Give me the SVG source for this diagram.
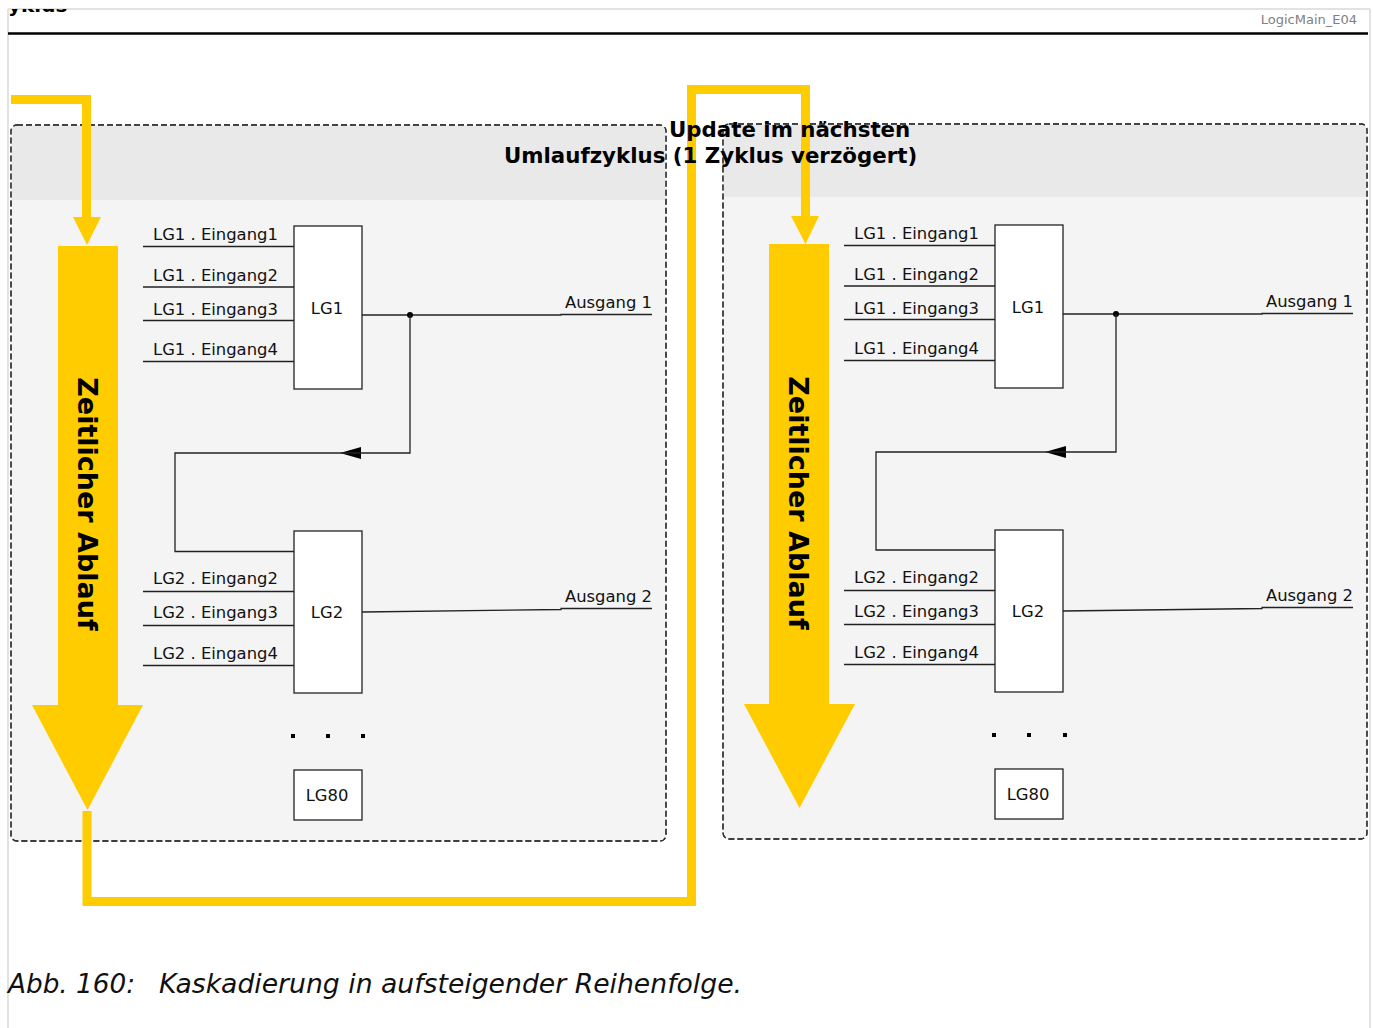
<svg xmlns="http://www.w3.org/2000/svg" width="1373" height="1028" viewBox="0 0 1373 1028">
<style>
.lbl{font-family:"DejaVu Sans","Liberation Sans",sans-serif;font-size:16.4px;fill:#111}
.box{fill:#fff;stroke:#222;stroke-width:1.3}
.wire{fill:none;stroke:#222;stroke-width:1.3}
.cont{stroke:#333;stroke-width:1.3;stroke-dasharray:6 3;fill:#f4f4f4}
.hdr{fill:#e9e9e9}
.yl{fill:none;stroke:#ffcc00;stroke-width:9;stroke-linejoin:miter}
.yf{fill:#ffcc00}
.vt{font-family:"DejaVu Sans","Liberation Sans",sans-serif;font-size:27px;font-weight:bold;fill:#000}
.ttl{font-family:"DejaVu Sans","Liberation Sans",sans-serif;font-weight:bold;font-size:21.33px;fill:#000}
.cap{font-family:"DejaVu Sans Condensed","DejaVu Sans",sans-serif;font-style:italic;font-size:26px;fill:#111}
</style>
<defs>
<clipPath id="pageclip"><rect x="0" y="9" width="1373" height="40"/></clipPath>
</defs>
<rect width="1373" height="1028" fill="#fff"/>
<g id="page">
<line x1="8" y1="9" x2="1370" y2="9" stroke="#e2e2e2" stroke-width="2"/>
<line x1="8" y1="9" x2="8" y2="1028" stroke="#e2e2e2" stroke-width="2"/>
<line x1="1370" y1="9" x2="1370" y2="1028" stroke="#e2e2e2" stroke-width="2"/>
<g clip-path="url(#pageclip)"><text x="8" y="12" font-family="DejaVu Sans, sans-serif" font-weight="bold" font-size="20" fill="#000">yklus</text></g>
<line x1="8" y1="33.5" x2="1368" y2="33.5" stroke="#000" stroke-width="2.5"/>
<text x="1357" y="24" text-anchor="end" font-family="DejaVu Sans, sans-serif" font-size="13" fill="#808080">LogicMain_E04</text>
</g>

<!-- Left container -->
<g id="cycle1">
<rect class="cont" x="11" y="125" width="655" height="716" rx="6"/>
<path class="hdr" d="M17,125.7 H660 Q665.3,125.7 665.3,131 V200 H11.7 V131 Q11.7,125.7 17,125.7 Z"/>
<rect x="11" y="125" width="655" height="716" rx="6" fill="none" stroke="#333" stroke-width="1.3" stroke-dasharray="6 3"/>
</g>
<!-- Right container -->
<g id="cycle2">
<rect class="cont" x="723" y="124" width="644" height="715" rx="6"/>
<path class="hdr" d="M729,124.7 H1361 Q1366.3,124.7 1366.3,130 V197 H723.7 V130 Q723.7,124.7 729,124.7 Z"/>
<rect x="723" y="124" width="644" height="715" rx="6" fill="none" stroke="#333" stroke-width="1.3" stroke-dasharray="6 3"/>
</g>

<!-- Left logic -->
<g id="left-logic">
<g id="lg1-inputs">
<line class="wire" x1="143" y1="246.5" x2="294" y2="246.5"/>
<line class="wire" x1="143" y1="287" x2="294" y2="287"/>
<line class="wire" x1="143" y1="320.5" x2="294" y2="320.5"/>
<line class="wire" x1="143" y1="361.5" x2="294" y2="361.5"/>
<text class="lbl" x="153" y="240">LG1 . Eingang1</text>
<text class="lbl" x="153" y="281">LG1 . Eingang2</text>
<text class="lbl" x="153" y="315">LG1 . Eingang3</text>
<text class="lbl" x="153" y="355">LG1 . Eingang4</text>
</g>
<g id="lg1"><rect class="box" x="294" y="226" width="68" height="163"/><text class="lbl" x="327" y="314" text-anchor="middle">LG1</text></g>
<g id="lg2-inputs">
<line class="wire" x1="143" y1="591.5" x2="294" y2="591.5"/>
<line class="wire" x1="143" y1="625.5" x2="294" y2="625.5"/>
<line class="wire" x1="143" y1="665.5" x2="294" y2="665.5"/>
<text class="lbl" x="153" y="584">LG2 . Eingang2</text>
<text class="lbl" x="153" y="618">LG2 . Eingang3</text>
<text class="lbl" x="153" y="659">LG2 . Eingang4</text>
</g>
<g id="lg2"><rect class="box" x="294" y="531" width="68" height="162"/><text class="lbl" x="327" y="618" text-anchor="middle">LG2</text></g>
<g id="dots1"><rect x="291" y="734" width="4" height="4" fill="#000"/><rect x="326" y="734" width="4" height="4" fill="#000"/><rect x="361" y="734" width="4" height="4" fill="#000"/></g>
<g id="lg80"><rect class="box" x="294" y="770" width="68" height="50"/><text class="lbl" x="327" y="801" text-anchor="middle">LG80</text></g>
<g id="outputs1">
<polyline class="wire" points="362,315 561,315 561,314.5 652,314.5"/>
<text class="lbl" x="652" y="308" text-anchor="end">Ausgang 1</text>
<polyline class="wire" points="362,612 561,609.5 561,608.5 652,608.5"/>
<text class="lbl" x="652" y="602" text-anchor="end">Ausgang 2</text>
</g>
</g>

<!-- Right logic -->
<g id="right-logic" transform="translate(701,-1)">
<g id="lg1b-inputs">
<line class="wire" x1="143" y1="246.5" x2="294" y2="246.5"/>
<line class="wire" x1="143" y1="287" x2="294" y2="287"/>
<line class="wire" x1="143" y1="320.5" x2="294" y2="320.5"/>
<line class="wire" x1="143" y1="361.5" x2="294" y2="361.5"/>
<text class="lbl" x="153" y="240">LG1 . Eingang1</text>
<text class="lbl" x="153" y="281">LG1 . Eingang2</text>
<text class="lbl" x="153" y="315">LG1 . Eingang3</text>
<text class="lbl" x="153" y="355">LG1 . Eingang4</text>
</g>
<g id="lg1b"><rect class="box" x="294" y="226" width="68" height="163"/><text class="lbl" x="327" y="314" text-anchor="middle">LG1</text></g>
<g id="lg2b-inputs">
<line class="wire" x1="143" y1="591.5" x2="294" y2="591.5"/>
<line class="wire" x1="143" y1="625.5" x2="294" y2="625.5"/>
<line class="wire" x1="143" y1="665.5" x2="294" y2="665.5"/>
<text class="lbl" x="153" y="584">LG2 . Eingang2</text>
<text class="lbl" x="153" y="618">LG2 . Eingang3</text>
<text class="lbl" x="153" y="659">LG2 . Eingang4</text>
</g>
<g id="lg2b"><rect class="box" x="294" y="531" width="68" height="162"/><text class="lbl" x="327" y="618" text-anchor="middle">LG2</text></g>
<g id="dots2"><rect x="291" y="734" width="4" height="4" fill="#000"/><rect x="326" y="734" width="4" height="4" fill="#000"/><rect x="362" y="734" width="4" height="4" fill="#000"/></g>
<g id="lg80b"><rect class="box" x="294" y="770" width="68" height="50"/><text class="lbl" x="327" y="801" text-anchor="middle">LG80</text></g>
<g id="outputs2">
<polyline class="wire" points="362,315 561,315 561,314.5 652,314.5"/>
<text class="lbl" x="652" y="308" text-anchor="end">Ausgang 1</text>
<polyline class="wire" points="362,612 561,609.5 561,608.5 652,608.5"/>
<text class="lbl" x="652" y="602" text-anchor="end">Ausgang 2</text>
</g>
</g>

<!-- Connectors -->
<g id="connectors">
<circle cx="410" cy="315" r="3" fill="#000"/>
<path class="wire" d="M410,315 V453 H361"/>
<path d="M340,453 L361,447 L361,459 Z" fill="#000"/>
<path class="wire" d="M361,453 H175 V551.5 H294"/>
<circle cx="1116" cy="314" r="3" fill="#000"/>
<path class="wire" d="M1116,314 V452 H1066"/>
<path d="M1045,452 L1066,446 L1066,458 Z" fill="#000"/>
<path class="wire" d="M1066,452 H876 V550 H995"/>
</g>

<!-- Yellow flow -->
<g id="flow">
<path class="yl" d="M11,99.5 H86.5 V218"/>
<polygon class="yf" points="73,217 101,217 87,245"/>
<rect class="yf" x="58" y="246" width="60" height="460"/>
<polygon class="yf" points="32,705 143,705 87.5,810"/>
<path class="yl" d="M87,811 V901.5 H691.5 V89.5 H805.5 V217"/>
<polygon class="yf" points="791,216 819,216 805.5,244"/>
<rect class="yf" x="769" y="244" width="60" height="461"/>
<polygon class="yf" points="744,704 855,704 799.5,808"/>
<text class="vt" transform="translate(88,504) rotate(90)" x="0" y="10" text-anchor="middle">Zeitlicher Ablauf</text>
<text class="vt" transform="translate(799,503) rotate(90)" x="0" y="10" text-anchor="middle">Zeitlicher Ablauf</text>
</g>

<g id="title">
<text class="ttl" x="669" y="137">Update im nächsten</text>
<text class="ttl" x="504" y="163">Umlaufzyklus (1 Zyklus verzögert)</text>
</g>

<g id="caption">
<text class="cap" x="8" y="993" textLength="127" lengthAdjust="spacingAndGlyphs">Abb. 160:</text>
<text class="cap" x="159" y="993" textLength="583" lengthAdjust="spacingAndGlyphs">Kaskadierung in aufsteigender Reihenfolge.</text>
</g>
</svg>
